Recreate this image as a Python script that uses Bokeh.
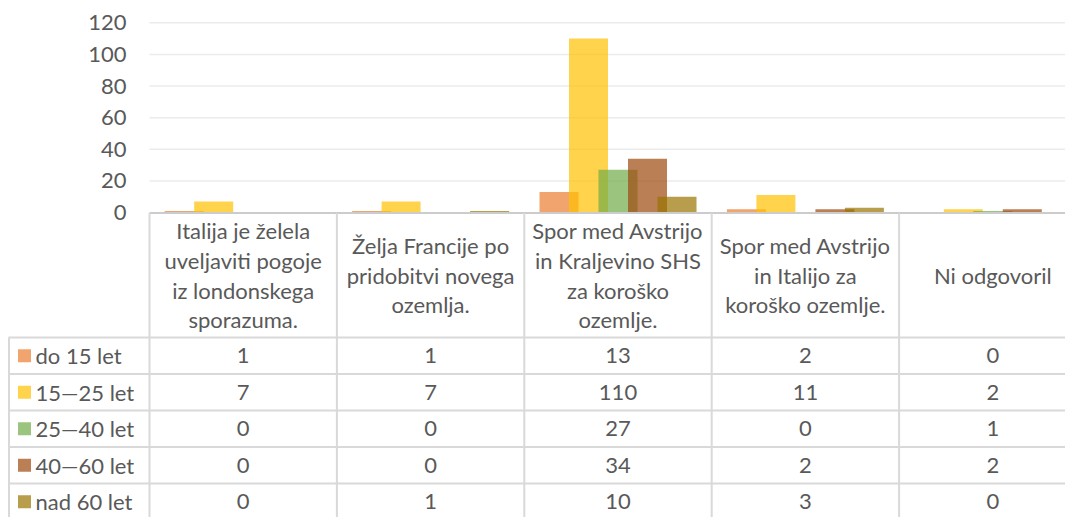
from bokeh.plotting import figure
from bokeh.models import Range1d, ColumnDataSource
from bokeh.core.properties import value
from bokeh.embed import file_html
from bokeh.resources import INLINE

# ---------------- data ----------------
categories = [
    "Italija je želela\nuveljaviti pogoje\niz londonskega\nsporazuma.",
    "Želja Francije po\npridobitvi novega\nozemlja.",
    "Spor med Avstrijo\nin Kraljevino SHS\nza koroško\nozemlje.",
    "Spor med Avstrijo\nin Italijo za\nkoroško ozemlje.",
    "Ni odgovoril",
]
series_names = ["do 15 let", "15—25  let", "25—40 let", "40—60 let", "nad 60 let"]
do_15 = [1, 1, 13, 2, 0]
od_15_25 = [7, 7, 110, 11, 2]
od_25_40 = [0, 0, 27, 0, 1]
od_40_60 = [0, 0, 34, 2, 2]
nad_60 = [0, 1, 10, 3, 0]
y_ticks = [0, 20, 40, 60, 80, 100, 120]

series_values = [do_15, od_15_25, od_25_40, od_40_60, nad_60]
colors = ["#ED7D31", "#FFC000", "#70AD47", "#9E480E", "#997300"]

# ---------------- layout helpers (pixel -> data) ----------------
COL_LEFT = 149.0
COL_W = 187.4
ZERO_Y = 212.0
PX_PER_UNIT = 1.5808
W, H = 1065, 517


def X(px):
    return (px - COL_LEFT) / COL_W - 0.5


def Y(py):
    return (ZERO_Y - py) / PX_PER_UNIT


FONT = value("Lato")
FS = "22px"
TXT = "#595959"
GRID = "#EBEBEB"
BORDER = "#D9D9D9"

p = figure(
    width=W, height=H,
    x_range=Range1d(X(0), X(W)), y_range=Range1d(Y(H), Y(0)),
    output_backend="svg", toolbar_location=None,
    x_axis_type=None, y_axis_type=None,
    min_border=0, min_border_left=0, min_border_right=0,
    min_border_top=0, min_border_bottom=0,
    outline_line_color=None, background_fill_color="white",
)
p.grid.visible = False

# gridlines
grid_ticks = [t for t in y_ticks if t != 0]
p.segment(x0=[X(COL_LEFT)] * len(grid_ticks), x1=[X(1100)] * len(grid_ticks),
          y0=grid_ticks, y1=grid_ticks, line_color=GRID, line_width=1.5)

# bars
n = len(series_values)
bar_w = 39.0 / COL_W
step = 29.5 / COL_W
xs = list(range(len(categories)))
for j, (vals, col) in enumerate(zip(series_values, colors)):
    off = (j - (n - 1) / 2) * step
    src = ColumnDataSource(dict(x=[i + off for i in xs], top=vals))
    p.vbar(x="x", top="top", bottom=0, width=bar_w, source=src,
           fill_color=col, fill_alpha=0.7, line_color=None)

# y tick labels
p.text(x=[X(126)] * len(y_ticks), y=y_ticks, text=[str(t) for t in y_ticks],
       text_font=FONT, text_font_size=FS, text_color=TXT,
       text_align="right", text_baseline="middle")

# table geometry
header_top = 212.5
header_bot = 337.0
row_lines = [337.0, 373.5, 410.0, 446.5, 483.0, 519.5]
row_centers = [(row_lines[k] + row_lines[k + 1]) / 2 for k in range(len(series_names))]
right_px = 1100

# horizontal lines
p.segment(x0=[X(COL_LEFT)], x1=[X(right_px)], y0=[Y(header_top)], y1=[Y(header_top)],
          line_color="#CCCCCC", line_width=2)
p.segment(x0=[X(8)] * len(row_lines), x1=[X(right_px)] * len(row_lines),
          y0=[Y(r) for r in row_lines], y1=[Y(r) for r in row_lines],
          line_color=BORDER, line_width=2)
# vertical lines
col_edges = [i - 0.5 for i in range(len(categories) + 1)]
p.segment(x0=col_edges, x1=col_edges, y0=[Y(header_top)] * len(col_edges),
          y1=[Y(540)] * len(col_edges), line_color=BORDER, line_width=2)
p.segment(x0=[X(8.5)], x1=[X(8.5)], y0=[Y(header_bot)], y1=[Y(540)],
          line_color=BORDER, line_width=2)

# header text
p.text(x=xs, y=[Y((header_top + header_bot) / 2)] * len(xs), text=categories,
       text_font=FONT, text_font_size=FS, text_color=TXT,
       text_align="center", text_baseline="middle", text_line_height=1.1)

# legend keys + labels
p.scatter(x=[X(24)] * n, y=[Y(c) for c in row_centers], marker="square", size=13,
          fill_color=colors, fill_alpha=0.7, line_color=None)
p.text(x=[X(35)] * n, y=[Y(c) for c in row_centers], text=series_names,
       text_font=FONT, text_font_size=FS, text_color=TXT,
       text_align="left", text_baseline="middle")

# values
tx, ty, tt = [], [], []
for j, vals in enumerate(series_values):
    for i, v in enumerate(vals):
        tx.append(i)
        ty.append(Y(row_centers[j]))
        tt.append(str(v))
p.text(x=tx, y=ty, text=tt, text_font=FONT, text_font_size=FS, text_color=TXT,
       text_align="center", text_baseline="middle")

open("out.html", "w").write(file_html(p, INLINE))
